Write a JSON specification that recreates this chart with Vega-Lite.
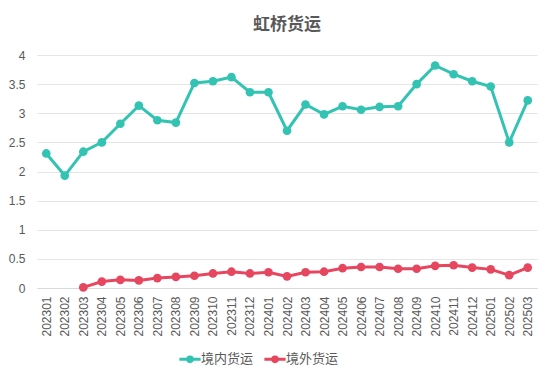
{
  "$schema": "https://vega.github.io/schema/vega-lite/v6.json",
  "width": 500,
  "height": 233,
  "autosize": {"type": "none"},
  "padding": {"left": 37, "top": 55, "right": 17, "bottom": 94},
  "background": "white",
  "title": {"text": "虹桥货运", "font": "Noto Sans CJK SC", "fontSize": 17, "fontWeight": "bold", "color": "#595959", "offset": 15, "anchor": "middle"},
  "data": {"values": [
    {"month": "202301", "series": "境内货运", "value": 2.31},
    {"month": "202302", "series": "境内货运", "value": 1.93},
    {"month": "202303", "series": "境内货运", "value": 2.34},
    {"month": "202304", "series": "境内货运", "value": 2.50},
    {"month": "202305", "series": "境内货运", "value": 2.82},
    {"month": "202306", "series": "境内货运", "value": 3.13},
    {"month": "202307", "series": "境内货运", "value": 2.88},
    {"month": "202308", "series": "境内货运", "value": 2.84},
    {"month": "202309", "series": "境内货运", "value": 3.52},
    {"month": "202310", "series": "境内货运", "value": 3.55},
    {"month": "202311", "series": "境内货运", "value": 3.62},
    {"month": "202312", "series": "境内货运", "value": 3.36},
    {"month": "202401", "series": "境内货运", "value": 3.36},
    {"month": "202402", "series": "境内货运", "value": 2.70},
    {"month": "202403", "series": "境内货运", "value": 3.15},
    {"month": "202404", "series": "境内货运", "value": 2.98},
    {"month": "202405", "series": "境内货运", "value": 3.12},
    {"month": "202406", "series": "境内货运", "value": 3.06},
    {"month": "202407", "series": "境内货运", "value": 3.11},
    {"month": "202408", "series": "境内货运", "value": 3.12},
    {"month": "202409", "series": "境内货运", "value": 3.50},
    {"month": "202410", "series": "境内货运", "value": 3.82},
    {"month": "202411", "series": "境内货运", "value": 3.67},
    {"month": "202412", "series": "境内货运", "value": 3.55},
    {"month": "202501", "series": "境内货运", "value": 3.46},
    {"month": "202502", "series": "境内货运", "value": 2.50},
    {"month": "202503", "series": "境内货运", "value": 3.22},
    {"month": "202303", "series": "境外货运", "value": 0.01},
    {"month": "202304", "series": "境外货运", "value": 0.11},
    {"month": "202305", "series": "境外货运", "value": 0.14},
    {"month": "202306", "series": "境外货运", "value": 0.13},
    {"month": "202307", "series": "境外货运", "value": 0.17},
    {"month": "202308", "series": "境外货运", "value": 0.19},
    {"month": "202309", "series": "境外货运", "value": 0.21},
    {"month": "202310", "series": "境外货运", "value": 0.25},
    {"month": "202311", "series": "境外货运", "value": 0.28},
    {"month": "202312", "series": "境外货运", "value": 0.25},
    {"month": "202401", "series": "境外货运", "value": 0.27},
    {"month": "202402", "series": "境外货运", "value": 0.20},
    {"month": "202403", "series": "境外货运", "value": 0.27},
    {"month": "202404", "series": "境外货运", "value": 0.28},
    {"month": "202405", "series": "境外货运", "value": 0.34},
    {"month": "202406", "series": "境外货运", "value": 0.36},
    {"month": "202407", "series": "境外货运", "value": 0.36},
    {"month": "202408", "series": "境外货运", "value": 0.33},
    {"month": "202409", "series": "境外货运", "value": 0.33},
    {"month": "202410", "series": "境外货运", "value": 0.38},
    {"month": "202411", "series": "境外货运", "value": 0.39},
    {"month": "202412", "series": "境外货运", "value": 0.35},
    {"month": "202501", "series": "境外货运", "value": 0.32},
    {"month": "202502", "series": "境外货运", "value": 0.22},
    {"month": "202503", "series": "境外货运", "value": 0.35}
  ]},
  "mark": {"type": "line", "strokeWidth": 3, "point": {"size": 75, "filled": true, "opacity": 1}},
  "encoding": {
    "x": {"field": "month", "type": "ordinal", "scale": {"paddingInner": 1, "paddingOuter": 0.5},
      "axis": {"title": null, "labelAngle": -90, "labelFont": "Liberation Sans", "labelFontSize": 12, "labelColor": "#595959", "ticks": false, "domainColor": "#D9D9D9", "domainWidth": 1, "labelPadding": 8, "grid": false}},
    "y": {"field": "value", "type": "quantitative", "scale": {"domain": [0, 4]},
      "axis": {"title": null, "values": [0, 0.5, 1, 1.5, 2, 2.5, 3, 3.5, 4], "format": "~g", "labelFont": "Liberation Sans", "labelFontSize": 12, "labelColor": "#595959", "ticks": false, "domain": false, "gridColor": "#E5E5E5", "gridWidth": 1, "labelPadding": 12}},
    "color": {"field": "series", "type": "nominal", "sort": ["境内货运", "境外货运"],
      "scale": {"domain": ["境内货运", "境外货运"], "range": ["#33C3B3", "#E6475F"]},
      "legend": {"title": null, "orient": "none", "legendX": 144, "legendY": 295, "direction": "horizontal", "labelFont": "Noto Sans CJK SC", "labelFontSize": 13, "labelColor": "#595959",
        "symbolType": "M-1.5,0H1.5M0.32,0A0.32,0.32,0,1,1,-0.32,0A0.32,0.32,0,1,1,0.32,0Z", "symbolStrokeWidth": 3, "symbolSize": 200, "columnPadding": 4, "labelOffset": 2,
        "encode": {"symbols": {"update": {"fill": {"field": "value", "scale": "color"}}}}}}
  },
  "config": {"view": {"stroke": null}}
}
